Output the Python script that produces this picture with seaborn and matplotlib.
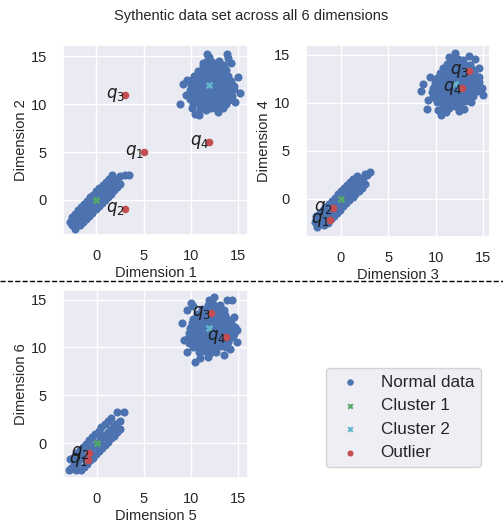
import matplotlib
matplotlib.use("Agg")
import pandas as pd
import seaborn as sns
from matplotlib import pyplot as plt
from matplotlib.lines import Line2D


BLUE, GREEN, RED, CYAN = "#4C72B0", "#55A868", "#C44E52", "#64B5CD"

# cluster 1 members (around the origin, strongly correlated pairs)
c1_d1 = [-2.6, -2.3, -2.0, -1.7, -1.4, -1.1, -0.8, -0.5, -0.2, 0.1, 0.4, 0.7, 1.0, 1.3, 1.6, 1.9, 2.2, 2.5,
         -2.65, -2.3, -2.0, -1.65, -1.35, -1.0, -0.65, -0.35, 0.0, 0.3, 0.65, 1.0, 1.3, 1.65,
         -1.75, -1.4, -1.1, -0.75, -0.45, -0.1, 0.25, 0.55, 0.9, 1.2, 1.55, 1.85, 2.2, 2.55,
         -2.8, -2.3, 3.0, 3.5]
c1_d2 = [-2.6, -2.35, -1.95, -1.7, -1.45, -1.05, -0.8, -0.55, -0.15, 0.1, 0.35, 0.75, 1.0, 1.25, 1.65, 1.9, 2.2, 2.5,
         -1.75, -1.45, -1.1, -0.75, -0.45, -0.1, 0.25, 0.55, 0.9, 1.2, 1.55, 1.85, 2.2, 2.55,
         -2.65, -2.35, -2.0, -1.65, -1.35, -1.0, -0.65, -0.35, 0.0, 0.3, 0.65, 1.0, 1.3, 1.65,
         -2.3, -3.0, 2.6, 2.6]
c1_d3 = [-2.5, -2.2, -1.9, -1.6, -1.3, -1.0, -0.7, -0.4, -0.1, 0.2, 0.5, 0.8, 1.1, 1.4, 1.7, 2.0, 2.4, 2.8,
         -2.55, -2.25, -1.9, -1.6, -1.25, -0.95, -0.6, -0.3, 0.05, 0.35, 0.7, 1.0, 1.35, 1.7,
         -1.7, -1.35, -1.05, -0.7, -0.4, -0.05, 0.25, 0.6, 0.9, 1.25, 1.55, 1.9, 2.2, 2.55,
         -2.7, -2.5, 2.6, 3.1]
c1_d4 = [-2.7, -2.4, -2.05, -1.8, -1.45, -1.15, -0.85, -0.55, -0.2, 0.05, 0.35, 0.7, 0.95, 1.25, 1.6, 1.85, 2.2, 2.5,
         -1.85, -1.6, -1.2, -0.9, -0.55, -0.25, 0.1, 0.45, 0.75, 1.1, 1.4, 1.75, 2.05, 2.4,
         -2.8, -2.5, -2.15, -1.8, -1.5, -1.15, -0.8, -0.5, -0.15, 0.15, 0.5, 0.8, 1.15, 1.5,
         -2.4, -3.0, 2.6, 2.8]
c1_d5 = [-2.7, -2.4, -2.1, -1.8, -1.5, -1.2, -0.9, -0.6, -0.3, 0.0, 0.3, 0.6, 0.9, 1.2, 1.5, 1.8, 2.1, 2.5,
         -2.8, -2.45, -2.15, -1.8, -1.5, -1.15, -0.8, -0.5, -0.15, 0.2, 0.5, 0.85, 1.2, 1.55,
         -1.7, -1.4, -1.05, -0.75, -0.4, -0.1, 0.25, 0.55, 0.9, 1.2, 1.55, 1.85, 2.2, 2.5,
         -2.9, -2.2, 2.2, 2.9]
c1_d6 = [-2.6, -2.3, -2.05, -1.7, -1.45, -1.1, -0.85, -0.55, -0.25, 0.05, 0.3, 0.65, 0.9, 1.2, 1.5, 1.75, 2.05, 2.3,
         -1.7, -1.4, -1.05, -0.7, -0.35, -0.05, 0.3, 0.65, 1.0, 1.3, 1.65, 2.0, 2.3, 2.6,
         -2.8, -2.5, -2.15, -1.8, -1.5, -1.15, -0.8, -0.5, -0.15, 0.15, 0.5, 0.8, 1.15, 1.5,
         -2.8, -2.75, 3.3, 3.3]

# cluster 2 members (around 12 in every dimension)
c2_d1 = [11.0, 11.6, 12.2, 12.8,
         10.3, 10.9, 11.5, 12.1, 12.7, 13.3, 13.8,
         9.9, 10.5, 11.1, 11.7, 12.3, 12.9, 13.5, 14.1,
         9.8, 10.3, 10.9, 11.5, 12.1, 12.7, 13.3, 13.9, 14.4,
         9.9, 10.5, 11.1, 11.7, 12.3, 12.9, 13.5, 14.1, 14.6,
         10.0, 10.6, 11.2, 11.8, 12.4, 13.0, 13.6, 14.2, 14.6,
         10.2, 10.8, 11.4, 12.0, 12.6, 13.2, 13.8, 14.3,
         10.4, 11.0, 11.6, 12.2, 12.8, 13.4, 14.0,
         10.8, 11.4, 12.0, 12.6, 13.2, 13.8,
         11.3, 11.9, 12.5, 13.1, 13.6,
         11.7, 12.3, 13.0,
         8.9, 9.2, 9.5, 9.6, 10.5, 10.9, 12.9, 13.4, 14.7, 15.2, 15.0, 14.3, 14.0, 12.0, 11.3, 11.7, 13.9, 10.1]
c2_d2 = [9.5, 9.4, 9.6, 9.5,
         10.0, 10.1, 9.9, 10.0, 10.1, 9.9, 10.0,
         10.5, 10.4, 10.6, 10.5, 10.4, 10.6, 10.5, 10.4,
         11.0, 11.1, 10.9, 11.0, 11.1, 10.9, 11.0, 11.1, 10.9,
         11.5, 11.4, 11.6, 11.5, 11.4, 11.6, 11.5, 11.4, 11.6,
         12.0, 12.1, 11.9, 12.0, 12.1, 11.9, 12.0, 12.1, 11.9,
         12.5, 12.4, 12.6, 12.5, 12.4, 12.6, 12.5, 12.4,
         13.0, 13.1, 12.9, 13.0, 13.1, 12.9, 13.0,
         13.5, 13.4, 13.6, 13.5, 13.4, 13.6,
         14.0, 14.1, 13.9, 14.0, 14.1,
         14.5, 14.4, 14.5,
         10.0, 12.1, 11.0, 12.5, 9.0, 8.9, 9.2, 9.6, 10.2, 11.2, 12.8, 14.3, 14.8, 14.9, 14.3, 15.2, 15.2, 9.6]
c2_d3 = [10.8, 11.4, 12.0, 12.6,
         10.1, 10.7, 11.3, 11.9, 12.5, 13.1, 13.7,
         9.7, 10.3, 10.9, 11.5, 12.1, 12.7, 13.3, 13.9,
         9.6, 10.1, 10.7, 11.3, 11.9, 12.5, 13.1, 13.7, 14.3,
         9.7, 10.3, 10.9, 11.5, 12.1, 12.7, 13.3, 13.9, 14.5,
         9.9, 10.5, 11.1, 11.7, 12.3, 12.9, 13.5, 14.1, 14.5,
         10.1, 10.7, 11.3, 11.9, 12.5, 13.1, 13.7, 14.2,
         10.4, 11.0, 11.6, 12.2, 12.8, 13.4, 14.0,
         10.8, 11.4, 12.0, 12.6, 13.2, 13.8,
         11.2, 11.8, 12.4, 13.0, 13.6,
         11.7, 12.3, 12.9,
         8.7, 8.5, 9.1, 9.2, 10.6, 11.1, 12.4, 13.0, 15.0, 14.9, 14.5, 14.1, 12.0, 11.4, 13.5, 9.4, 10.2, 14.6]
c2_d4 = [9.6, 9.5, 9.7, 9.6,
         10.1, 10.0, 10.2, 10.1, 10.0, 10.2, 10.1,
         10.6, 10.7, 10.5, 10.6, 10.7, 10.5, 10.6, 10.7,
         11.1, 11.0, 11.2, 11.1, 11.0, 11.2, 11.1, 11.0, 11.2,
         11.6, 11.7, 11.5, 11.6, 11.7, 11.5, 11.6, 11.7, 11.5,
         12.1, 12.0, 12.2, 12.1, 12.0, 12.2, 12.1, 12.0, 12.2,
         12.6, 12.7, 12.5, 12.6, 12.7, 12.5, 12.6, 12.7,
         13.1, 13.0, 13.2, 13.1, 13.0, 13.2, 13.1,
         13.6, 13.7, 13.5, 13.6, 13.7, 13.5,
         14.1, 14.0, 14.2, 14.1, 14.0,
         14.5, 14.6, 14.5,
         12.0, 11.2, 9.4, 10.3, 8.7, 9.0, 9.1, 9.4, 10.8, 11.6, 12.7, 14.6, 15.2, 14.8, 14.9, 12.7, 9.3, 13.6]
c2_d5 = [10.9, 11.5, 12.1, 12.7,
         10.2, 10.8, 11.4, 12.0, 12.6, 13.2, 13.8,
         9.8, 10.4, 11.0, 11.6, 12.2, 12.8, 13.4, 14.0,
         9.7, 10.2, 10.8, 11.4, 12.0, 12.6, 13.2, 13.8, 14.4,
         9.8, 10.4, 11.0, 11.6, 12.2, 12.8, 13.4, 14.0, 14.6,
         9.9, 10.5, 11.1, 11.7, 12.3, 12.9, 13.5, 14.1, 14.7,
         10.1, 10.7, 11.3, 11.9, 12.5, 13.1, 13.7, 14.3,
         10.3, 10.9, 11.5, 12.1, 12.7, 13.3, 13.9,
         10.7, 11.3, 11.9, 12.5, 13.1, 13.7,
         11.2, 11.8, 12.4, 13.0, 13.6,
         11.8, 12.4, 13.1,
         12.5, 14.4, 9.65, 9.1, 9.3, 9.65, 10.5, 11.8, 14.95, 14.6, 13.9, 10.2, 11.0, 12.0, 13.5, 14.9, 10.0, 14.2]
c2_d6 = [9.5, 9.6, 9.4, 9.5,
         10.0, 9.9, 10.1, 10.0, 9.9, 10.1, 10.0,
         10.5, 10.6, 10.4, 10.5, 10.6, 10.4, 10.5, 10.6,
         11.0, 10.9, 11.1, 11.0, 10.9, 11.1, 11.0, 10.9, 11.1,
         11.5, 11.6, 11.4, 11.5, 11.6, 11.4, 11.5, 11.6, 11.4,
         12.0, 11.9, 12.1, 12.0, 11.9, 12.1, 12.0, 11.9, 12.1,
         12.5, 12.6, 12.4, 12.5, 12.6, 12.4, 12.5, 12.6,
         13.0, 12.9, 13.1, 13.0, 12.9, 13.1, 13.0,
         13.5, 13.6, 13.4, 13.5, 13.6, 13.4,
         14.0, 13.9, 14.1, 14.0, 13.9,
         14.4, 14.5, 14.4,
         15.3, 14.9, 13.9, 12.5, 10.8, 9.5, 8.5, 9.0, 11.8, 13.2, 15.0, 14.3, 8.9, 15.0, 9.2, 10.6, 14.6, 9.8]

# cluster centres
centre1 = [0, 0, 0, 0, 0, 0]
centre2 = [12, 12, 12, 12, 12, 12]

# outliers q1..q4, one list per dimension
out_names = ["$q_1$", "$q_2$", "$q_3$", "$q_4$"]
out_d1 = [5, 3, 3, 12]
out_d2 = [5, -1, 11, 6]
out_d3 = [-1.15, -0.8, 13.5, 12.75]
out_d4 = [-2.2, -1.0, 13.35, 11.5]
out_d5 = [-0.9, -0.78, 12.2, 13.75]
out_d6 = [-1.75, -1.05, 13.6, 11.1]

normal = pd.DataFrame({
    f"d{k}": a + b for k, (a, b) in enumerate(
        [(c1_d1, c2_d1), (c1_d2, c2_d2), (c1_d3, c2_d3),
         (c1_d4, c2_d4), (c1_d5, c2_d5), (c1_d6, c2_d6)], start=1)
})
outliers = pd.DataFrame({"d1": out_d1, "d2": out_d2, "d3": out_d3,
                         "d4": out_d4, "d5": out_d5, "d6": out_d6, "name": out_names})

sns.set_theme(style="darkgrid")
plt.rcParams["font.family"] = ["Liberation Sans", "DejaVu Sans"]
plt.rcParams.update({"xtick.labelsize": 10.5, "ytick.labelsize": 10.5, "axes.labelsize": 10.5,
                     "xtick.major.pad": 4, "ytick.major.pad": 5.5, "text.color": "#262626"})

fig = plt.figure(figsize=(5.03, 5.22), dpi=100)
fig.suptitle("Sythentic data set across all 6 dimensions", y=0.982, fontsize=10.5)

boxes = [[0.125, 0.550, 0.368, 0.364], [0.608, 0.546, 0.366, 0.368], [0.125, 0.084, 0.368, 0.360]]
lims = [((-3.57, 16.1), (-3.66, 16.2)), ((-3.66, 15.7), (-4.0, 16.05)), ((-3.6, 16.1), (-3.65, 15.97))]

for i, box in enumerate(boxes):
    ax = fig.add_axes(box)
    xc, yc = f"d{2 * i + 1}", f"d{2 * i + 2}"
    sns.scatterplot(normal, x=xc, y=yc, color=BLUE, s=34, linewidth=0, ax=ax, label="Normal data")
    sns.scatterplot(x=[centre1[2 * i]], y=[centre1[2 * i + 1]], color=GREEN, marker="X", s=30,
                    linewidth=0, ax=ax, label="Cluster 1")
    sns.scatterplot(x=[centre2[2 * i]], y=[centre2[2 * i + 1]], color=CYAN, marker="X", s=30,
                    linewidth=0, ax=ax, label="Cluster 2")
    sns.scatterplot(outliers, x=xc, y=yc, color=RED, s=30, linewidth=0, ax=ax, label="Outlier", zorder=3)
    for _, row in outliers.iterrows():
        ax.text(row[xc], row[yc], row["name"], ha="right", va="center", fontsize=12,
                color="#1a1a1a", zorder=4)
    ax.set_xlim(*lims[i][0])
    ax.set_ylim(*lims[i][1])
    ax.set_xticks([0, 5, 10, 15])
    ax.set_yticks([0, 5, 10, 15])
    ax.set_xlabel(f"Dimension {2 * i + 1}", labelpad=2)
    ax.set_ylabel(f"Dimension {2 * i + 2}", labelpad=2)
    handles, labels = ax.get_legend_handles_labels()
    ax.get_legend().remove()

fig.legend(handles, labels, loc="center", bbox_to_anchor=(0.802, 0.2), fontsize=12.3, markerscale=0.8)
fig.add_artist(Line2D([0, 1], [0.4617, 0.4617], transform=fig.transFigure,
                      color="black", linestyle="--", linewidth=1))

fig.savefig("out.png", dpi=100)
